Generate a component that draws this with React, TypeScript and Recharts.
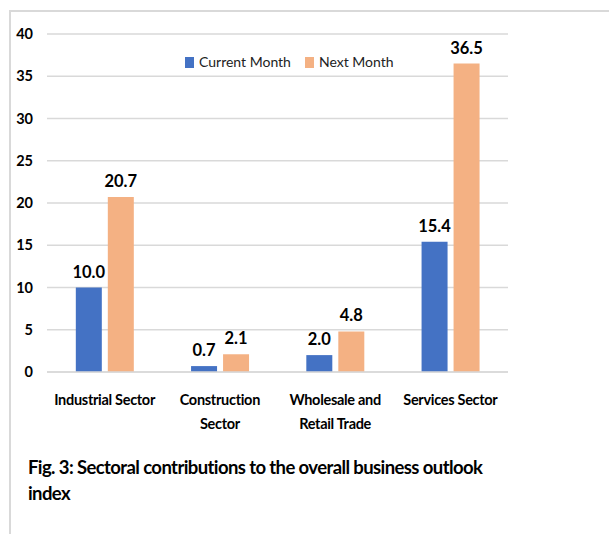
import React from 'react';
import { BarChart, Bar, XAxis, YAxis, CartesianGrid, LabelList } from 'recharts';

const categories = ['Industrial Sector', 'Construction Sector', 'Wholesale and Retail Trade', 'Services Sector'];
const categoryLines = [['Industrial Sector'], ['Construction', 'Sector'], ['Wholesale and', 'Retail Trade'], ['Services Sector']];
const currentMonth = [10.0, 0.7, 2.0, 15.4];
const nextMonth = [20.7, 2.1, 4.8, 36.5];
const yTicks = [0, 5, 10, 15, 20, 25, 30, 35, 40];
const seriesNames = ['Current Month', 'Next Month'];
const seriesColors = ['#4472C4', '#F4B183'];

const data = categories.map((name, i) => ({
  name,
  current: currentMonth[i],
  next: nextMonth[i],
}));

const font = 'Lato, "Open Sans", sans-serif';

const CategoryTick = (props: any) => {
  const { x, y, payload } = props;
  const lines = categoryLines[payload.index] || [payload.value];
  return (
    <text x={x} y={y} textAnchor="middle" fontFamily={font} fontWeight="bold" fontSize={14.5} fill="#000" letterSpacing={-0.3}>
      {lines.map((l: string, i: number) => (
        <tspan key={i} x={x} dy={i === 0 ? 25 : 24}>{l}</tspan>
      ))}
    </text>
  );
};

const fmt = (v: any) => Number(v).toFixed(1);
const labelStyle = { fontFamily: font, fontWeight: 'bold', fontSize: 16.5, fill: '#000' };

export default function App() {
  return (
    <div style={{ position: 'absolute', left: 0, top: 0, width: 609, height: 534, background: '#fff', overflow: 'hidden' }}>
      <div style={{ position: 'absolute', left: 9, top: 10, width: 640, height: 600, borderLeft: '2px solid #d9d9d9', borderTop: '2px solid #d9d9d9' }} />
      <div style={{ position: 'absolute', left: 0, top: 0 }}>
        <BarChart
          width={609}
          height={440}
          data={data}
          margin={{ top: 34, right: 101, left: 7, bottom: 38 }}
          barCategoryGap="25%"
          barGap={6}
        >
          <CartesianGrid vertical={false} stroke="#d9d9d9" strokeWidth={1.5} />
          <XAxis
            dataKey="name"
            height={30}
            axisLine={{ stroke: '#d9d9d9', strokeWidth: 1.5 }}
            tickLine={false}
            interval={0}
            tick={<CategoryTick />}
          />
          <YAxis
            width={40}
            domain={[0, 40]}
            ticks={yTicks}
            axisLine={false}
            tickLine={false}
            tickSize={0}
            tickMargin={14}
            tick={{ fontFamily: font, fontWeight: 'bold', fontSize: 14.5, fill: '#000' }}
          />
          <Bar dataKey="current" name={seriesNames[0]} fill={seriesColors[0]} isAnimationActive={false}>
            <LabelList dataKey="current" position="top" offset={10} formatter={fmt} style={labelStyle} />
          </Bar>
          <Bar dataKey="next" name={seriesNames[1]} fill={seriesColors[1]} isAnimationActive={false}>
            <LabelList dataKey="next" position="top" offset={10} formatter={fmt} style={labelStyle} />
          </Bar>
        </BarChart>
      </div>
      <div style={{ position: 'absolute', left: 185, top: 52, display: 'flex', alignItems: 'center', fontFamily: font, fontSize: 14, color: '#222', lineHeight: '20px' }}>
        {seriesNames.map((n, i) => (
          <div key={n} style={{ display: 'flex', alignItems: 'center', marginRight: 14 }}>
            <span style={{ display: 'inline-block', width: 9, height: 11, background: seriesColors[i], marginRight: 5 }} />
            <span>{n}</span>
          </div>
        ))}
      </div>
      <div style={{ position: 'absolute', left: 28, top: 454, width: 480, fontFamily: font, fontWeight: 'bold', fontSize: 18.5, letterSpacing: -0.6, lineHeight: '26px', color: '#000' }}>
        Fig. 3: Sectoral contributions to the overall business outlook index
      </div>
    </div>
  );
}
